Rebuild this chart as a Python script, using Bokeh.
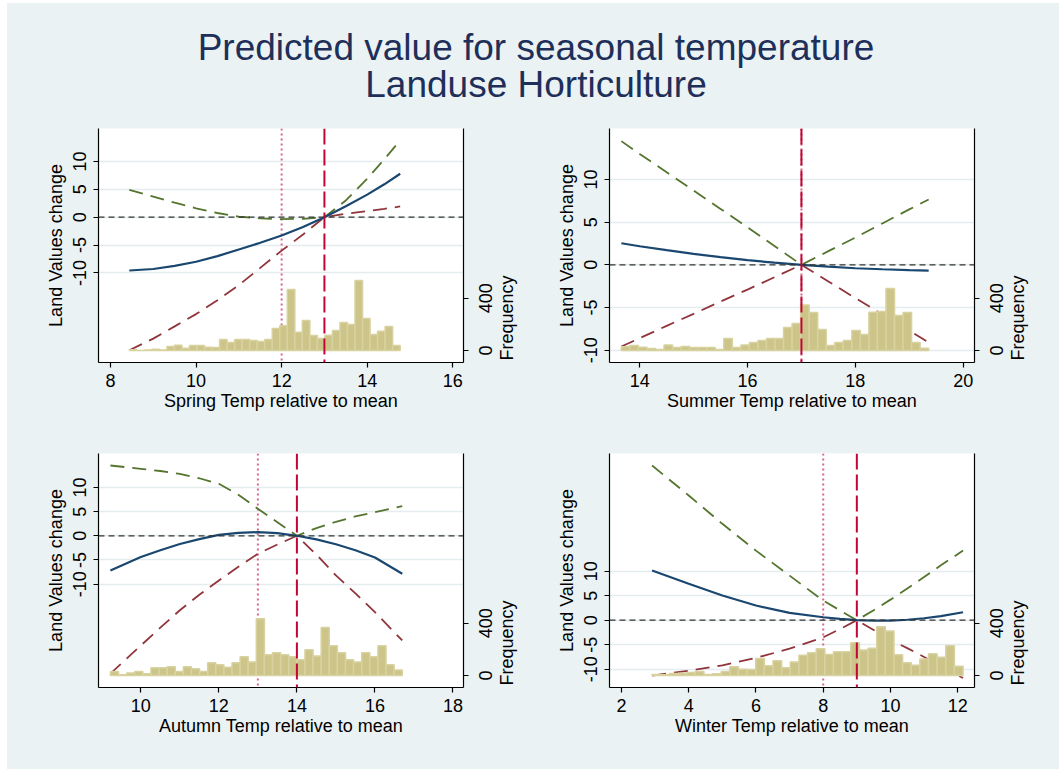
import math
import numpy as np
from bokeh.plotting import figure
from bokeh.models import Range1d, LinearAxis, FixedTicker, Span
from bokeh.layouts import column, row
from bokeh.embed import file_html
from bokeh.resources import INLINE
from bokeh.core.properties import value

# ---------------- data ----------------
title_lines = ["Predicted value for seasonal temperature", "Landuse Horticulture"]
y_label = "Land Values change"
freq_label = "Frequency"

spring_label = "Spring Temp relative to mean"
spring_x = [8.44, 9.0, 9.5, 10.0, 10.5, 11.0, 11.5, 12.0, 12.5, 13.0, 13.5, 14.0, 14.4, 14.77]
spring_fit = [-9.57, -9.3, -8.75, -8.0, -7.0, -5.8, -4.6, -3.3, -1.75, 0.0, 1.95, 4.05, 5.9, 7.8]
spring_upper = [4.92, 3.7, 2.6, 1.6, 0.75, 0.1, -0.2, -0.35, -0.3, 0.0, 3.0, 6.9, 10.4, 13.8]
spring_lower = [-23.9, -21.8, -19.6, -17.4, -14.9, -12.2, -9.1, -6.0, -3.1, 0.0, 0.6, 1.1, 1.5, 1.92]
spring_hist_range = [8.44, 14.77]
spring_counts = [5, 0, 3, 10, 3, 30, 41, 18, 38, 38, 25, 23, 84, 61, 84, 84, 76, 69,
                 84, 168, 189, 466, 140, 229, 115, 92, 117, 153, 214, 199, 535, 245, 122, 148, 183, 38]
spring_mean, spring_ref = 12, 13
spring_xticks = [8, 10, 12, 14, 16]

summer_label = "Summer Temp relative to mean"
summer_x = [13.66, 14.0, 14.5, 15.0, 15.5, 16.0, 16.5, 17.0, 17.5, 18.0, 18.5, 19.0, 19.36]
summer_fit = [2.53, 2.18, 1.72, 1.29, 0.9, 0.54, 0.25, 0.0, -0.22, -0.4, -0.52, -0.63, -0.67]
summer_upper = [14.5, 13.0, 10.85, 8.7, 6.55, 4.4, 2.2, 0.0, 1.6, 3.2, 4.85, 6.5, 7.66]
summer_lower = [-9.58, -8.6, -7.15, -5.75, -4.3, -2.9, -1.45, 0.0, -1.95, -3.9, -5.8, -7.7, -9.1]
summer_hist_range = [13.66, 19.36]
summer_counts = [28, 38, 25, 15, 8, 43, 23, 31, 23, 23, 23, 8, 92, 23, 43, 61, 76, 92,
                 92, 176, 206, 347, 290, 161, 38, 61, 76, 153, 122, 293, 298, 474, 268, 290, 61, 18]
summer_mean, summer_ref = 17, 17
summer_xticks = [14, 16, 18, 20]

autumn_label = "Autumn Temp relative to mean"
autumn_x = [9.22, 10.0, 10.5, 11.0, 11.5, 12.0, 12.5, 13.0, 13.5, 14.0, 14.5, 15.0, 15.5, 16.0, 16.7]
autumn_fit = [-7.18, -4.4, -3.0, -1.7, -0.7, 0.2, 0.62, 0.75, 0.55, 0.0, -0.75, -1.75, -3.0, -4.5, -7.86]
autumn_upper = [14.54, 13.85, 13.4, 12.8, 11.9, 10.75, 8.5, 5.58, 2.8, 0.0, 1.6, 2.9, 4.0, 4.9, 6.13]
autumn_lower = [-28.5, -22.7, -19.0, -15.4, -12.2, -9.25, -6.4, -3.72, -1.8, 0.0, -3.9, -8.2, -11.9, -15.8, -21.65]
autumn_hist_range = [9.22, 16.70]
autumn_counts = [31, 5, 20, 31, 13, 59, 59, 66, 31, 66, 51, 31, 97, 82, 64, 97, 143, 104,
                 433, 158, 173, 158, 143, 120, 196, 150, 367, 227, 173, 120, 104, 173, 143, 227, 82, 43]
autumn_mean, autumn_ref = 13, 14
autumn_xticks = [10, 12, 14, 16, 18]

winter_label = "Winter Temp relative to mean"
winter_x = [2.91, 4.0, 5.0, 6.0, 7.0, 8.0, 8.5, 9.0, 9.5, 10.0, 10.5, 11.0, 11.5, 12.16]
winter_fit = [10.14, 7.43, 5.04, 3.0, 1.5, 0.61, 0.28, 0.0, -0.08, -0.07, 0.1, 0.4, 0.85, 1.63]
winter_upper = [31.57, 25.45, 19.67, 14.2, 9.1, 4.0, 2.0, 0.0, 2.05, 4.2, 6.45, 8.8, 11.2, 14.22]
winter_lower = [-11.3, -10.3, -9.2, -7.7, -5.8, -3.5, -1.8, 0.0, -2.0, -4.0, -5.7, -7.5, -9.4, -11.8]
winter_hist_range = [2.91, 12.16]
winter_counts = [8, 5, 15, 18, 23, 31, 8, 13, 31, 66, 48, 46, 130, 74, 112, 59, 104, 155,
                 173, 204, 161, 181, 181, 250, 194, 209, 372, 341, 158, 97, 79, 127, 166, 140, 227, 71]
winter_mean, winter_ref = 8, 9
winter_xticks = [2, 4, 6, 8, 10, 12]

y_ticks = [-10, -5, 0, 5, 10]
freq_ticks = [0, 400]
freq_label_at = 248   # Stata centres the frequency title here on the right axis

# ---------------- style ----------------
BG = "#EAF2F3"
FONT = "Liberation Sans"
FS = 18  # px
NAVY = "#1A476F"
GREEN = "#55752F"
MAROON = "#90353B"
CRAN = "#C10534"
PINK = "#D9668A"
BAR_FILL = "#CCC488"
BAR_LINE = "#D8D2A0"
DIGIT_EM = 0.556
FREQ_EM = 4.724


def style_axis(ax, ticks):
    ax.ticker = FixedTicker(ticks=ticks)
    ax.major_label_overrides = {t: str(t) for t in ticks}
    ax.major_tick_out = 5
    ax.major_tick_in = 0
    ax.minor_tick_line_color = None
    ax.axis_line_color = "black"
    ax.axis_line_width = 1.2
    ax.major_tick_line_color = "black"
    ax.major_tick_line_width = 1.2
    ax.major_label_text_font = FONT
    ax.major_label_text_font_size = f"{FS}px"
    ax.major_label_text_color = "black"
    ax.axis_label_text_font = FONT
    ax.axis_label_text_font_size = f"{FS}px"
    ax.axis_label_text_font_style = "normal"
    ax.axis_label_text_color = "black"


def label_only_axis(ticks, labels, standoff):
    """Right-side axis holding only rotated text; Bokeh starts such text at
    the tick, so the tick is shifted back by half the text length."""
    ax = LinearAxis(y_range_name="freq")
    style_axis(ax, ticks)
    ax.major_label_overrides = dict(zip(ticks, labels))
    ax.major_label_orientation = math.pi / 2
    ax.major_tick_out = 0
    ax.major_tick_line_color = None
    ax.axis_line_color = None
    ax.major_label_standoff = standoff
    return ax


def make_panel(width, height, borders, xr, yr, fr, xticks, xlabel,
               xs, fit, upper, lower, hist_range, counts, mean_x, ref_x):
    bl, br, bt, bb = borders
    p = figure(width=width, height=height, title=None,
               x_range=Range1d(*xr), y_range=Range1d(*yr),
               output_backend="svg", toolbar_location=None,
               min_border_left=bl, min_border_right=br,
               min_border_top=bt, min_border_bottom=bb,
               background_fill_color="white", border_fill_color=BG,
               outline_line_color=None)
    p.extra_y_ranges = {"freq": Range1d(*fr)}
    p.xgrid.visible = False
    p.ygrid.ticker = FixedTicker(ticks=y_ticks)
    p.ygrid.grid_line_color = "#E4ECEE"
    p.ygrid.grid_line_width = 1.5

    style_axis(p.xaxis[0], xticks)
    p.xaxis[0].axis_label = xlabel
    p.xaxis[0].major_label_standoff = 6
    p.xaxis[0].axis_label_standoff = 1

    style_axis(p.yaxis[0], y_ticks)
    p.yaxis[0].axis_label = y_label
    p.yaxis[0].major_label_orientation = "parallel"
    p.yaxis[0].major_label_standoff = 7
    p.yaxis[0].axis_label_standoff = 5

    frame_h = height - bt - bb
    ppf = frame_h / (fr[1] - fr[0])     # pixels per frequency unit

    # right axis: tick marks only
    rax = LinearAxis(y_range_name="freq")
    style_axis(rax, freq_ticks)
    rax.major_label_overrides = {t: "" for t in freq_ticks}
    rax.major_label_text_font_size = "0px"
    rax.major_label_standoff = 0
    p.add_layout(rax, "right")

    # right axis: tick labels, centred on the ticks
    lab_ticks = [round(t - DIGIT_EM * FS * len(str(t)) / 2 / ppf, 1) for t in freq_ticks]
    p.add_layout(label_only_axis(lab_ticks, [str(t) for t in freq_ticks], 17), "right")

    # right axis title, placed like Stata's
    ft = round(freq_label_at - FREQ_EM * FS / 2 / ppf, 1)
    p.add_layout(label_only_axis([ft], [freq_label], 6), "right")

    # mean line (dotted, under the bars)
    p.add_layout(Span(location=mean_x, dimension="height", line_color=PINK,
                      line_dash="2 3", line_width=2, level="underlay"))

    p.line(xs, upper, line_color=GREEN, line_width=1.8, line_dash="14 8")
    p.line(xs, lower, line_color=MAROON, line_width=1.8, line_dash="14 8")
    p.line(xs, fit, line_color=NAVY, line_width=2.2)

    edges = np.linspace(hist_range[0], hist_range[1], len(counts) + 1)
    p.quad(left=edges[:-1], right=edges[1:], bottom=0, top=counts,
           y_range_name="freq", fill_color=BAR_FILL, line_color=BAR_LINE,
           line_width=1.5)

    p.add_layout(Span(location=0, dimension="width", line_color="#333333",
                      line_dash="6 4", line_width=1.2))
    p.add_layout(Span(location=ref_x, dimension="height", line_color=CRAN,
                      line_dash="16 5", line_width=2))
    return p


FR = (-91.7, 1697)
p1 = make_panel(523, 320, (91, 67, 10, 76), (7.72, 16.25), (-26.09, 15.92), FR,
                spring_xticks, spring_label, spring_x, spring_fit, spring_upper,
                spring_lower, spring_hist_range, spring_counts, spring_mean, spring_ref)
p2 = make_panel(529, 320, (79, 85, 10, 76), (13.44, 20.21), (-11.45, 15.98), FR,
                summer_xticks, summer_label, summer_x, summer_fit, summer_upper,
                summer_lower, summer_hist_range, summer_counts, summer_mean, summer_ref)
p3 = make_panel(523, 331, (91, 67, 15, 82), (8.915, 18.27), (-31.38, 17.02), FR,
                autumn_xticks, autumn_label, autumn_x, autumn_fit, autumn_upper,
                autumn_lower, autumn_hist_range, autumn_counts, autumn_mean, autumn_ref)
p4 = make_panel(529, 331, (79, 85, 15, 82), (1.643, 12.50), (-13.73, 34.02), FR,
                winter_xticks, winter_label, winter_x, winter_fit, winter_upper,
                winter_lower, winter_hist_range, winter_counts, winter_mean, winter_ref)

t = figure(width=1052, height=115, title=None,
           x_range=Range1d(0, 1052), y_range=Range1d(115, 0),
           output_backend="svg", toolbar_location=None, min_border=0,
           x_axis_type=None, y_axis_type=None,
           background_fill_color=BG, border_fill_color=BG, outline_line_color=None)
t.grid.visible = False
t.text(x=[528.5, 528.5], y=[44.0, 80.5], text=title_lines,
       text_font=value(FONT), text_font_size=value("37px"), text_color="#1E2F5A",
       text_align="center", text_baseline="middle")

bgstyle = {"background-color": BG}
layout = column(t, row(p1, p2, styles=bgstyle), row(p3, p4, styles=bgstyle),
                styles=bgstyle, margin=(3, 0, 0, 7))
open("out.html", "w").write(file_html(layout, INLINE))
